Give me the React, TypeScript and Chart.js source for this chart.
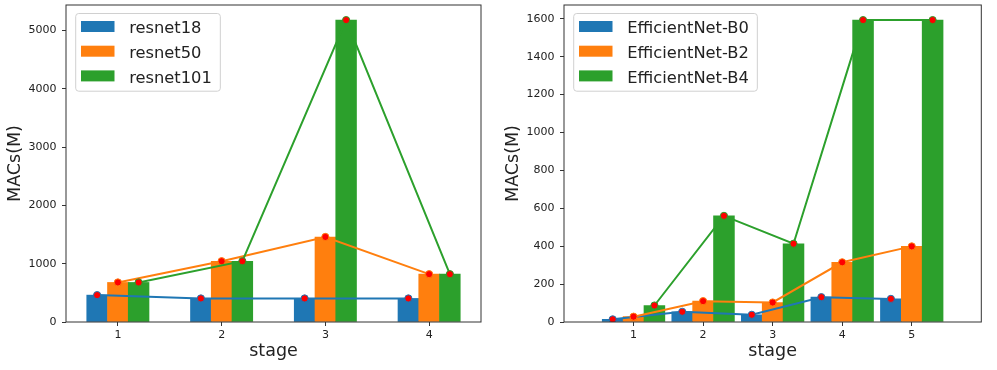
import React, { useEffect, useRef } from "react";
import { Chart, registerables } from "chart.js";

Chart.register(...registerables);

// ---------- data ----------
const resnetStages = [1, 2, 3, 4];
const resnet18 = [461, 404, 404, 404];
const resnet50 = [678, 1042, 1458, 820];
const resnet101 = [678, 1042, 5176, 820];
const resnetLabels = ["resnet18", "resnet50", "resnet101"];
const resnetYTicks = [0, 1000, 2000, 3000, 4000, 5000];

const effStages = [1, 2, 3, 4, 5];
const effB0 = [14, 54, 38, 131, 122];
const effB2 = [28, 110, 103, 315, 399];
const effB4 = [87, 560, 413, 1593, 1593];
const effLabels = ["EfficientNet-B0", "EfficientNet-B2", "EfficientNet-B4"];
const effYTicks = [0, 200, 400, 600, 800, 1000, 1200, 1400, 1600];

const xTitle = "stage";
const yTitle = "MACs(M)";

// ---------- styles ----------
const COLORS = ["#1f77b4", "#ff7f0e", "#2ca02c"];
const MARKER = "#ff0000";
const FONT = "'DejaVu Sans', sans-serif";
const TEXT = "#222222";
const AXIS = "#333333";

type Panel = {
  left: number;
  width: number;
  stages: number[];
  series: number[][];
  labels: string[];
  yTicks: number[];
  barWidth: number;
  xMin: number;
  xMax: number;
  yAxisWidth: number;
  yTitlePad: number;
  padRight: number;
};

const panels: Panel[] = [
  {
    left: 0,
    width: 490,
    stages: resnetStages,
    series: [resnet18, resnet50, resnet101],
    labels: resnetLabels,
    yTicks: resnetYTicks,
    barWidth: 0.2,
    xMin: 0.5,
    xMax: 4.5,
    yAxisWidth: 66,
    yTitlePad: 5,
    padRight: 9,
  },
  {
    left: 490,
    width: 507,
    stages: effStages,
    series: [effB0, effB2, effB4],
    labels: effLabels,
    yTicks: effYTicks,
    barWidth: 0.3,
    xMin: 0,
    xMax: 6,
    yAxisWidth: 74,
    yTitlePad: 12.8,
    padRight: 15.7,
  },
];

const HEIGHT = 370;
const PLOT_TOP = 4;
const PLOT_BOTTOM = 322;

const framePlugin = {
  id: "frameAndLegend",
  afterDatasetsDraw(chart: any) {
    const ca = chart.chartArea;
    const ctx = chart.ctx;
    ctx.save();
    ctx.strokeStyle = AXIS;
    ctx.lineWidth = 1;
    ctx.strokeRect(ca.left, ca.top, ca.right - ca.left, ca.bottom - ca.top);

    // legend (matplotlib-like, inside upper-left)
    const labels: string[] = chart.options.plugins.mplLegend.labels;
    const fontSize = 16.3;
    ctx.font = `${fontSize}px ${FONT}`;
    const maxW = Math.max(...labels.map((l) => ctx.measureText(l).width));
    const bx = ca.left + 9.7;
    const by = ca.top + 8.5;
    const patchX = bx + 5.3;
    const patchW = 33.5;
    const patchH = 11;
    const textX = patchX + patchW + 14.7;
    const bw = textX + maxW + 8.5 - bx;
    const rowH = 24.7;
    const bh = 13 + rowH * (labels.length - 1) + 15.3;
    ctx.beginPath();
    ctx.roundRect(bx, by, bw, bh, 3);
    ctx.fillStyle = "rgba(255,255,255,0.8)";
    ctx.fill();
    ctx.strokeStyle = "#d0d0d0";
    ctx.lineWidth = 1;
    ctx.stroke();
    labels.forEach((l, i) => {
      const cy = by + 13 + i * rowH;
      ctx.fillStyle = COLORS[i];
      ctx.fillRect(patchX, cy - patchH / 2, patchW, patchH);
      ctx.fillStyle = TEXT;
      ctx.textAlign = "left";
      ctx.textBaseline = "alphabetic";
      ctx.fillText(l, textX, cy + 6.6);
    });
    ctx.restore();
  },
};

function PanelChart({ p }: { p: Panel }) {
  const ref = useRef<HTMLCanvasElement | null>(null);
  useEffect(() => {
    if (!ref.current) return;
    const yMax = Math.max(...p.series.flat()) * 1.05;
    const pts = (vals: number[], i: number) =>
      p.stages.map((s, j) => ({ x: s + (i - 1) * p.barWidth, y: vals[j] }));
    const bars = p.series.map((vals, i) => ({
      type: "bar" as const,
      label: p.labels[i],
      data: pts(vals, i),
      backgroundColor: COLORS[i],
      borderWidth: 0,
      grouped: false,
      barPercentage: 1,
      categoryPercentage: 1,
      order: 20 - i,
    }));
    const lines = p.series.map((vals, i) => ({
      type: "line" as const,
      label: p.labels[i] + " line",
      data: pts(vals, i),
      borderColor: COLORS[i],
      borderWidth: 2,
      backgroundColor: MARKER,
      pointRadius: 3.6,
      pointBackgroundColor: MARKER,
      pointBorderColor: COLORS[i],
      pointBorderWidth: 1,
      tension: 0,
      fill: false,
      order: 10 - i,
    }));
    const tickFont = { family: FONT, size: 11 };
    const titleFont = { family: FONT, size: 17.5 };
    const chart = new Chart(ref.current, {
      type: "bar",
      data: { datasets: [...bars, ...lines] as any },
      options: {
        animation: false,
        responsive: false,
        devicePixelRatio: 1,
        layout: { padding: { top: PLOT_TOP, right: p.padRight, left: 0, bottom: 0 } },
        plugins: {
          legend: { display: false },
          tooltip: { enabled: false },
          mplLegend: { labels: p.labels },
        } as any,
        scales: {
          x: {
            type: "linear",
            min: p.xMin,
            max: p.xMax,
            offset: false,
            grid: {
              offset: false,
              drawOnChartArea: false,
              drawTicks: true,
              tickLength: 4,
              color: AXIS,
            },
            border: { display: false },
            ticks: {
              font: tickFont,
              color: TEXT,
              padding: 3,
              maxRotation: 0,
              callback: (v: any) => String(v),
            },
            afterBuildTicks: (s: any) => {
              s.ticks = p.stages.map((v) => ({ value: v }));
            },
            afterFit: (s: any) => {
              s.height = HEIGHT - PLOT_BOTTOM;
              s.paddingLeft = 0;
              s.paddingRight = 0;
            },
            title: {
              display: true,
              text: xTitle,
              font: titleFont,
              color: TEXT,
              padding: { top: 0, bottom: 7.8 },
            },
          },
          y: {
            type: "linear",
            min: 0,
            max: yMax,
            grid: {
              drawOnChartArea: false,
              drawTicks: true,
              tickLength: 4,
              color: AXIS,
            },
            border: { display: false },
            ticks: {
              font: tickFont,
              color: TEXT,
              padding: 5.5,
              callback: (v: any) => String(v),
            },
            afterBuildTicks: (s: any) => {
              s.ticks = p.yTicks.map((v) => ({ value: v }));
            },
            afterFit: (s: any) => {
              s.width = p.yAxisWidth;
              s.paddingTop = 0;
              s.paddingBottom = 0;
            },
            title: {
              display: true,
              text: yTitle,
              font: titleFont,
              color: TEXT,
              padding: { top: p.yTitlePad, bottom: 0 },
            },
          },
        },
      } as any,
      plugins: [framePlugin],
    });
    return () => chart.destroy();
  }, [p]);
  return (
    <canvas
      ref={ref}
      width={p.width}
      height={HEIGHT}
      style={{ position: "absolute", left: p.left, top: 0, width: p.width, height: HEIGHT }}
    />
  );
}

export default function App() {
  return (
    <div style={{ position: "absolute", left: 0, top: 0, width: 997, height: HEIGHT, background: "#fff" }}>
      {panels.map((p, i) => (
        <PanelChart key={i} p={p} />
      ))}
    </div>
  );
}
